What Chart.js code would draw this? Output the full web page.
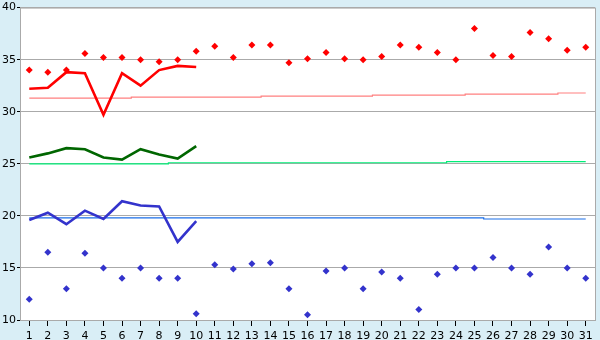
<!DOCTYPE html>
<html>
<head>
<meta charset="utf-8">
<script src="https://cdn.jsdelivr.net/npm/chart.js@4/dist/chart.umd.min.js"></script>
<style>
  html, body { margin: 0; padding: 0; background: #d9eef6; }
  #wrap { width: 600px; height: 340px; position: relative; }
</style>
</head>
<body>
<div id="wrap"><canvas id="temp-chart"></canvas></div>
<script>
/* ---- 데이터 ---- */
var days = ['1','2','3','4','5','6','7','8','9','10','11','12','13','14','15','16',
            '17','18','19','20','21','22','23','24','25','26','27','28','29','30','31'];
var recordHigh = [34.0, 33.8, 34.0, 35.6, 35.2, 35.2, 35.0, 34.8, 35.0, 35.8, 36.3, 35.2, 36.4, 36.4, 34.7, 35.1,
                  35.7, 35.1, 35.0, 35.3, 36.4, 36.2, 35.7, 35.0, 38.0, 35.4, 35.3, 37.6, 37.0, 35.9, 36.2];
var recordLow = [12.0, 16.5, 13.0, 16.4, 15.0, 14.0, 15.0, 14.0, 14.0, 10.6, 15.3, 14.9, 15.4, 15.5, 13.0, 10.5,
                 14.7, 15.0, 13.0, 14.6, 14.0, 11.0, 14.4, 15.0, 15.0, 16.0, 15.0, 14.4, 17.0, 15.0, 14.0];
var maxTemp = [32.2, 32.3, 33.8, 33.7, 29.7, 33.7, 32.5, 34.0, 34.4, 34.3];
var meanTemp = [25.6, 26.0, 26.5, 26.4, 25.6, 25.4, 26.4, 25.9, 25.5, 26.7];
var minTemp = [19.6, 20.3, 19.2, 20.5, 19.7, 21.4, 21.0, 20.9, 17.5, 19.5];
var normalMax = [31.3, 31.3, 31.3, 31.3, 31.3, 31.3, 31.4, 31.4, 31.4, 31.4, 31.4, 31.4, 31.4, 31.5, 31.5, 31.5,
                 31.5, 31.5, 31.5, 31.6, 31.6, 31.6, 31.6, 31.6, 31.7, 31.7, 31.7, 31.7, 31.7, 31.8, 31.8];
var normalMean = [25.0, 25.0, 25.0, 25.0, 25.0, 25.0, 25.0, 25.0, 25.1, 25.1, 25.1, 25.1, 25.1, 25.1, 25.1, 25.1,
                  25.1, 25.1, 25.1, 25.1, 25.1, 25.1, 25.1, 25.2, 25.2, 25.2, 25.2, 25.2, 25.2, 25.2, 25.2];
var normalMin = [19.8, 19.8, 19.8, 19.8, 19.8, 19.8, 19.8, 19.8, 19.8, 19.8, 19.8, 19.8, 19.8, 19.8, 19.8, 19.8,
                 19.8, 19.8, 19.8, 19.8, 19.8, 19.8, 19.8, 19.8, 19.8, 19.7, 19.7, 19.7, 19.7, 19.7, 19.7];
var yTicks = [10, 15, 20, 25, 30, 35, 40];

(function() {
    'use strict';

    var canvas = document.getElementById('temp-chart');
    if (!canvas || typeof Chart === 'undefined') return;

    /* 플롯 영역 배경 + 테두리 */
    var plotFrame = {
        id: 'plotFrame',
        beforeDraw: function(chart) {
            var a = chart.chartArea, ctx = chart.ctx;
            ctx.save();
            ctx.fillStyle = '#ffffff';
            ctx.fillRect(a.left, a.top, a.right - a.left, a.bottom - a.top);
            ctx.restore();
        },
        afterDraw: function(chart) {
            var a = chart.chartArea, ctx = chart.ctx;
            ctx.save();
            ctx.strokeStyle = '#aaaaaa';
            ctx.lineWidth = 1;
            ctx.strokeRect(a.left + 0.5, a.top + 0.5, a.right - a.left, a.bottom - a.top);
            ctx.restore();
        }
    };

    function normalLine(data, color) {
        return {
            data: data, borderColor: color, borderWidth: 1.2,
            pointRadius: 0, stepped: 'middle', fill: false
        };
    }
    function dailyLine(data, color) {
        return {
            data: data, borderColor: color, borderWidth: 2.6,
            pointRadius: 0, tension: 0, fill: false
        };
    }
    function recordPoints(data, color) {
        return {
            data: data, showLine: false, pointStyle: 'rectRot',
            pointRadius: 3.5, pointBackgroundColor: color, pointBorderColor: color,
            pointBorderWidth: 0, borderColor: color
        };
    }

    new Chart(canvas, {
        type: 'line',
        data: {
            labels: days,
            datasets: [
                recordPoints(recordHigh, '#ff0000'),
                recordPoints(recordLow, '#3333cc'),
                dailyLine(maxTemp, '#ff0000'),
                dailyLine(meanTemp, '#006600'),
                dailyLine(minTemp, '#3333cc'),
                normalLine(normalMax, '#ff8080'),
                normalLine(normalMean, '#00ee77'),
                normalLine(normalMin, '#1a6ee8')
            ]
        },
        options: {
            responsive: true,
            maintainAspectRatio: false,
            animation: false,
            layout: { padding: { top: 5, right: 5, left: 0, bottom: 0 } },
            plugins: {
                legend: { display: false },
                tooltip: { enabled: false }
            },
            scales: {
                x: {
                    offset: true,
                    grid: { drawOnChartArea: false, drawTicks: true, tickLength: 6, tickColor: '#000000' },
                    border: { color: '#aaaaaa' },
                    ticks: {
                        color: '#000000', padding: 4, maxRotation: 0, autoSkip: false,
                        font: { family: 'DejaVu Sans', size: 11 }
                    },
                    afterFit: function(scale) { scale.height = 20; }
                },
                y: {
                    min: yTicks[0],
                    max: yTicks[yTicks.length - 1],
                    grid: { color: '#aaaaaa', lineWidth: 1, tickLength: 3, tickColor: '#000000' },
                    border: { color: '#aaaaaa' },
                    afterBuildTicks: function(scale) {
                        scale.ticks = yTicks.map(function(v) { return { value: v }; });
                    },
                    ticks: {
                        color: '#000000', padding: 1,
                        font: { family: 'DejaVu Sans', size: 11 }
                    },
                    afterFit: function(scale) { scale.width = 20; }
                }
            }
        },
        plugins: [plotFrame]
    });
})();
</script>
</body>
</html>
